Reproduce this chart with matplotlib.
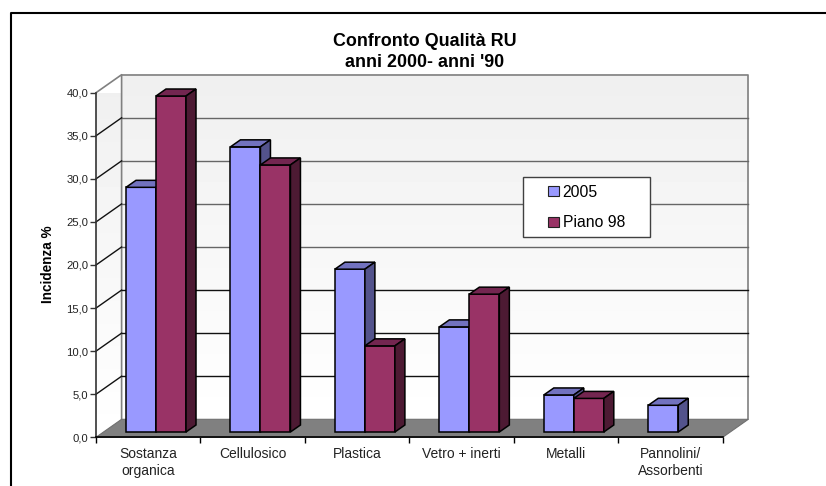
import matplotlib
matplotlib.use("Agg")
import matplotlib.pyplot as plt
import numpy as np
from matplotlib.patches import Polygon, Rectangle
from matplotlib.lines import Line2D

plt.rcParams['font.family'] = ['Liberation Sans', 'DejaVu Sans']

# data
categories = ["Sostanza\norganica", "Cellulosico", "Plastica", "Vetro + inerti", "Metalli", "Pannolini/\nAssorbenti"]
series_2005 = [28.4, 33.1, 18.9, 12.2, 4.3, 3.1]
series_piano = [39.0, 31.0, 10.0, 16.0, 3.9, 0]
yticks = [0, 5, 10, 15, 20, 25, 30, 35, 40]

W, H = 826, 486
fig = plt.figure(figsize=(W / 100, H / 100), dpi=100)
x0, x1, y0, y1 = 96.0, 722.7, 437.3, 92.7
ax = fig.add_axes([x0 / W, (H - y0) / H, (x1 - x0) / W, (y0 - y1) / H])

# pixels -> data units for the oblique depth
px_x = 6 / (x1 - x0)
px_y = 40 / (y0 - y1)
dx = 25.6 * px_x
dy = 18.0 * px_y


def depthPoly(pts, **kw):
    p = Polygon(pts, closed=True, clip_on=False, **kw)
    ax.add_patch(p)
    return p


#################################################################
# walls and floor
grad = np.linspace(0.94, 1.0, 16).reshape(-1, 1)
back = ax.imshow(grad, extent=[dx, 6 + dx, dy, 40 + dy], cmap='gray', vmin=0, vmax=1,
                 aspect='auto', interpolation='nearest', origin='upper', zorder=1, clip_on=False)
left = ax.imshow(grad, extent=[0, dx, 0, 40 + dy], cmap='gray', vmin=0, vmax=1,
                 aspect='auto', interpolation='nearest', origin='upper', zorder=1)
left_clip = depthPoly([(0, 0), (dx, dy), (dx, 40 + dy), (0, 40)], facecolor='none', edgecolor='none', zorder=1)
left.set_clip_path(left_clip)
ax.plot([0, dx, dx], [40, 40 + dy, dy], color='#808080', lw=1.2, clip_on=False, zorder=2)
ax.plot([dx, 6 + dx, 6 + dx], [40 + dy, 40 + dy, dy], color='#808080', lw=1.2, clip_on=False, zorder=2)
depthPoly([(0, 0), (6, 0), (6 + dx, dy), (dx, dy)], facecolor='#808080', edgecolor='#707070', linewidth=0.8, zorder=2)

# grid
for v in yticks[1:-1]:
    c = '#111111' if v <= 15 else '#666666'
    ax.plot([dx, 6 + dx], [v + dy, v + dy], color=c, lw=1.0, clip_on=False, zorder=2)
    ax.plot([0, dx], [v, v + dy], color='#111111', lw=1.0, clip_on=False, zorder=2)

#################################################################
# bars
bw = 30.0 * px_x
off_x = 30.0 * px_x
off_y = 5.3 * px_y
ddx = 10.0 * px_x
ddy = 7.0 * px_y
colors = [('#9999FF', '#7272BF', '#53538C'), ('#993366', '#732650', '#4D1A33')]
z = 3
for i in range(len(categories)):
    for j, vals in enumerate([series_2005, series_piano]):
        v = vals[i]
        if v <= 0:
            continue
        xl = i + off_x + j * bw
        xr = xl + bw
        top = off_y + v
        ax.bar(xl, v, width=bw, bottom=off_y, align='edge', color=colors[j][0], edgecolor='black',
               linewidth=1.1, clip_on=False, zorder=z)
        depthPoly([(xl, top), (xr, top), (xr + ddx, top + ddy), (xl + ddx, top + ddy)],
                  facecolor=colors[j][1], edgecolor='black', linewidth=1.1, zorder=z)
        depthPoly([(xr, off_y), (xr + ddx, off_y + ddy), (xr + ddx, top + ddy), (xr, top)],
                  facecolor=colors[j][2], edgecolor='black', linewidth=1.1, zorder=z)
        z += 1

#################################################################
# axes
ax.set_xlim(0, 6)
ax.set_ylim(0, 40)
for s in ['top', 'right']:
    ax.spines[s].set_visible(False)
ax.spines['left'].set_linewidth(1.2)
ax.spines['left'].set_color('#333333')
ax.spines['bottom'].set_linewidth(1.2)
ax.spines['left'].set_zorder(20)
ax.spines['bottom'].set_zorder(20)
ax.set_yticks(yticks)
ax.set_yticklabels([("%.1f" % v).replace(".", ",") for v in yticks], fontsize=8.1, color='#222222')
ax.set_xticks(range(7))
ax.set_xticklabels([""] * 7)
ax.set_xticks(np.arange(6) + 0.5, minor=True)
ax.set_xticklabels(categories, minor=True, fontsize=10, color='#222222', linespacing=1.25)
ax.tick_params(axis='y', length=4.5, width=1, pad=1, color='#333333')
ax.tick_params(axis='x', which='major', length=4.5, width=1)
ax.tick_params(axis='x', which='minor', length=0, pad=7)
ax.patch.set_visible(False)

fig.text(425 / W, (H - 52) / H, "Confronto Qualità RU\nanni 2000- anni '90", ha='center', va='center',
         fontsize=12.9, fontweight='bold', linespacing=1.3)
fig.text(47.5 / W, (H - 264) / H, "Incidenza %", rotation=90, ha='center', va='center',
         fontsize=9.8, fontweight='bold')

#################################################################
# legend
fig.add_artist(Rectangle((522.7 / W, (H - 237.3) / H), 127.3 / W, 60 / H, transform=fig.transFigure,
                         facecolor='white', edgecolor='#404040', linewidth=1.0, zorder=30))
handles = [Rectangle((0, 0), 1, 1, facecolor=colors[0][0], edgecolor='#222222', linewidth=0.8),
           Rectangle((0, 0), 1, 1, facecolor=colors[1][0], edgecolor='#222222', linewidth=0.8)]
leg = fig.legend(handles, ["2005", "Piano 98"], loc='center left', bbox_to_anchor=(545 / W, (H - 207.5) / H),
                 frameon=False, fontsize=11.3, handlelength=0.72, handleheight=0.62, handletextpad=0.2,
                 labelspacing=1.0, borderpad=0.2, borderaxespad=0)
leg.set_zorder(31)

# outer frame
fig.add_artist(Line2D([11 / W, 11 / W, 1], [0, (H - 13) / H, (H - 13) / H], transform=fig.transFigure,
                      color='black', lw=1.5))

fig.savefig("out.png", dpi=100)
